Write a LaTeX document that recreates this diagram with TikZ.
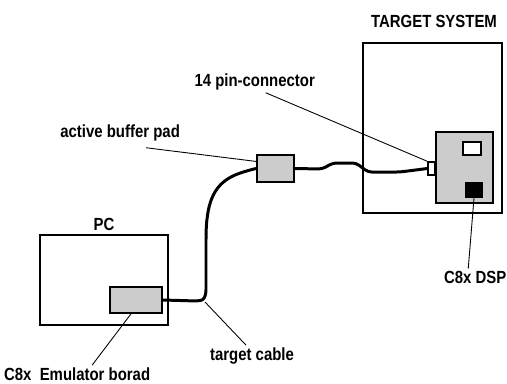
\documentclass[tikz,border=0pt]{standalone}
\usepackage{fontspec}
\setmainfont{Liberation Sans}[FakeStretch=0.85]
\usetikzlibrary{calc}

\begin{document}
\begin{tikzpicture}[x=0.02cm,y=-0.02cm,
  box/.style={draw,line width=1.1pt,inner sep=0pt},
  card/.style={box,fill=gray!40},
  cable/.style={line width=1.7pt,line join=round,rounded corners=2pt},
  lead/.style={line width=0.5pt},
  lbl/.style={font=\bfseries\fontsize{10}{11}\selectfont,inner sep=1pt}]
  \useasboundingbox (0,0) rectangle (507,383);

  % PC with emulator board
  \node[box,minimum width=2.56cm,minimum height=1.8cm] (pc) at (104,280) {};
  \node[card,minimum width=1.04cm,minimum height=0.52cm] (emu) at (136,300) {};

  % target system with DSP board
  \node[box,minimum width=2.78cm,minimum height=3.4cm] (tgt) at (432.5,128) {};
  \node[card,minimum width=1.14cm,minimum height=1.42cm] (dsp) at (464.5,167.5) {};
  \node[box,fill=white,minimum width=0.36cm,minimum height=0.26cm] (ram) at (472,148.5) {};
  \node[box,fill=black,minimum width=0.32cm,minimum height=0.28cm] (chip) at (474,190) {};
  \node[box,fill=white,line width=0.8pt,minimum width=0.14cm,minimum height=0.26cm] (conn) at (431.5,168.5) {};

  % buffer pad
  \node[card,minimum width=0.74cm,minimum height=0.54cm] (pad) at (275.5,168.5) {};

  % cables
  \draw[cable] (emu.east) -- (197,301) .. controls (204,300) and (206,296) .. (206,286)
    -- (206,236) .. controls (207,200) and (215,183) .. (240,173) -- (250,170) -- (pad.west);
  \coordinate (bend) at (205,302);
  \draw[cable] (pad.east) -- (322,169) -- (333,163) -- (356,163) -- (368,172)
    -- (400,172) -- (conn.west);

  % labels
  \node[lbl,anchor=base] (tsl) at (434,27) {TARGET SYSTEM};
  \node[lbl,anchor=base] (pcl) at (104,230) {PC};
  \node[lbl,anchor=base east] (pinl) at (317,86) {14 pin-connector};
  \node[lbl,anchor=base east] (padl) at (182,137) {active buffer pad};
  \node[lbl,anchor=base west] (tcl) at (208,360) {target cable};
  \node[lbl,anchor=base west] (emul) at (2,380) {C8x\ \ Emulator borad};
  \node[lbl,anchor=base west] (dspl) at (442,283) {C8x DSP};

  % leader lines
  \draw[lead] ($(pinl.south)+(11,1)$) -- (conn.north west);
  \draw[lead] ($(padl.south)+(26,5)$) -- (pad.160);
  \draw[lead] (bend) -- ($(tcl.north)+(-6,0)$);
  \draw[lead] (emu.250) -- ($(emul.north)+(15,0)$);
  \draw[lead] (chip.south) -- ($(dspl.north)+(-7,0)$);
\end{tikzpicture}
\end{document}
